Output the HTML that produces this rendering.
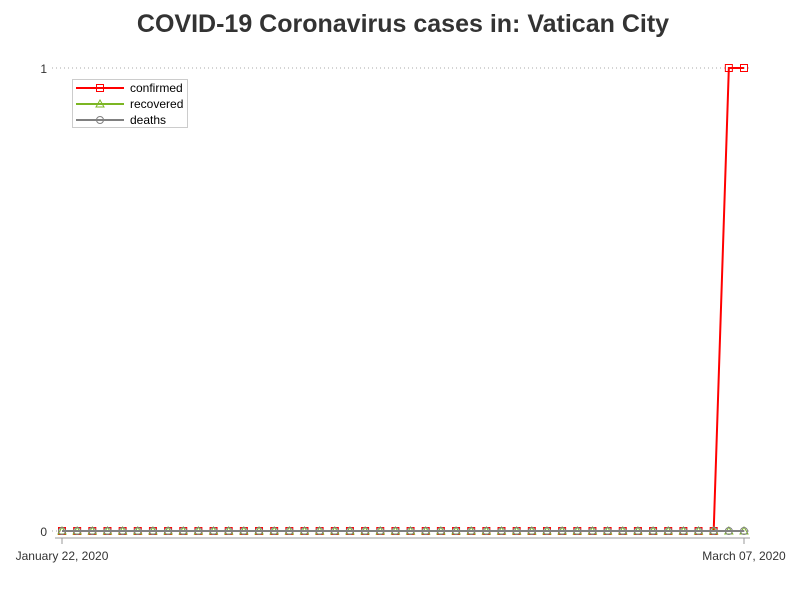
<!DOCTYPE html>
<html><head><meta charset="utf-8"><style>
body{margin:0;background:#fff;font-family:"Liberation Sans",sans-serif}
</style></head><body>
<svg id="c" width="800" height="600" xmlns="http://www.w3.org/2000/svg">
<text x="403" y="32" text-anchor="middle" font-size="25" font-weight="bold" fill="#333">COVID-19 Coronavirus cases in: Vatican City</text>
</svg>
<script>
const confirmed=[0,0,0,0,0,0,0,0,0,0,0,0,0,0,0,0,0,0,0,0,0,0,0,0,0,0,0,0,0,0,0,0,0,0,0,0,0,0,0,0,0,0,0,0,1,1];
const recovered=new Array(46).fill(0);
const deaths=new Array(46).fill(0);
const yTicks=[0,1];
const xLabels=["January 22, 2020","March 07, 2020"];
const NS="http://www.w3.org/2000/svg",svg=document.getElementById('c');
const x0=62,x1=744,y0=531,y1=68;
const X=i=>x0+(x1-x0)*i/(confirmed.length-1);
const Y=v=>y0+(y1-y0)*v;
function el(t,a,p){const e=document.createElementNS(NS,t);for(const k in a)e.setAttribute(k,a[k]);(p||svg).appendChild(e);return e;}
yTicks.forEach(v=>{
 const g=el('line',{x1:52,x2:750,y1:Y(v),y2:Y(v),stroke:'#aaa','stroke-dasharray':'1,3'});
 
 
 const t=el('text',{x:47,y:Y(v)+5,'text-anchor':'end','font-size':12,fill:'#333'});t.textContent=v;
 
 
});
const ax=el('line',{x1:55,x2:750,y1:538,y2:538,stroke:'#999'});


[[0,xLabels[0]],[confirmed.length-1,xLabels[1]]].forEach(([i,l])=>{
 el('line',{x1:X(i),x2:X(i),y1:538,y2:544,stroke:'#999'});
 const t=el('text',{x:X(i),y:560,'text-anchor':'middle','font-size':12,fill:'#333'});t.textContent=l;
 
 
});
function series(data,color,mark,name){
 const p=el('polyline',{points:data.map((v,i)=>X(i)+','+Y(v)).join(' '),fill:'none',stroke:color,'stroke-width':2});
 
 
 data.forEach((v,i)=>{const m=marker(X(i),Y(v),color,mark);
 
 });
}
function marker(x,y,c,m){
 if(m=='s')return el('rect',{x:x-3.5,y:y-3.5,width:7,height:7,fill:'none',stroke:c,'stroke-width':1});
 if(m=='t')return el('path',{d:`M${x},${y-4}L${x+4},${y+3}L${x-4},${y+3}Z`,fill:'none',stroke:c});
 return el('circle',{cx:x,cy:y,r:3.5,fill:'none',stroke:c});
}
series(confirmed,'#f00','s','confirmed');
series(recovered,'#7cb623','t','recovered');
series(deaths,'#808080','c','deaths');
const lg=el('g',{});


el('rect',{x:72.5,y:79.5,width:115,height:48,fill:'#fff',stroke:'#ccc'},lg);
[['confirmed','#f00','s'],['recovered','#7cb623','t'],['deaths','#808080','c']].forEach(([n,c,m],k)=>{
 const y=88+k*16;
 el('line',{x1:76,x2:124,y1:y,y2:y,stroke:c,'stroke-width':2},lg);
 lg.appendChild(marker(100,y,c,m));
 const t=el('text',{x:130,y:y+4,'font-size':12,fill:'#000'},lg);t.textContent=n;
 
 
});
</script>
</body></html>
